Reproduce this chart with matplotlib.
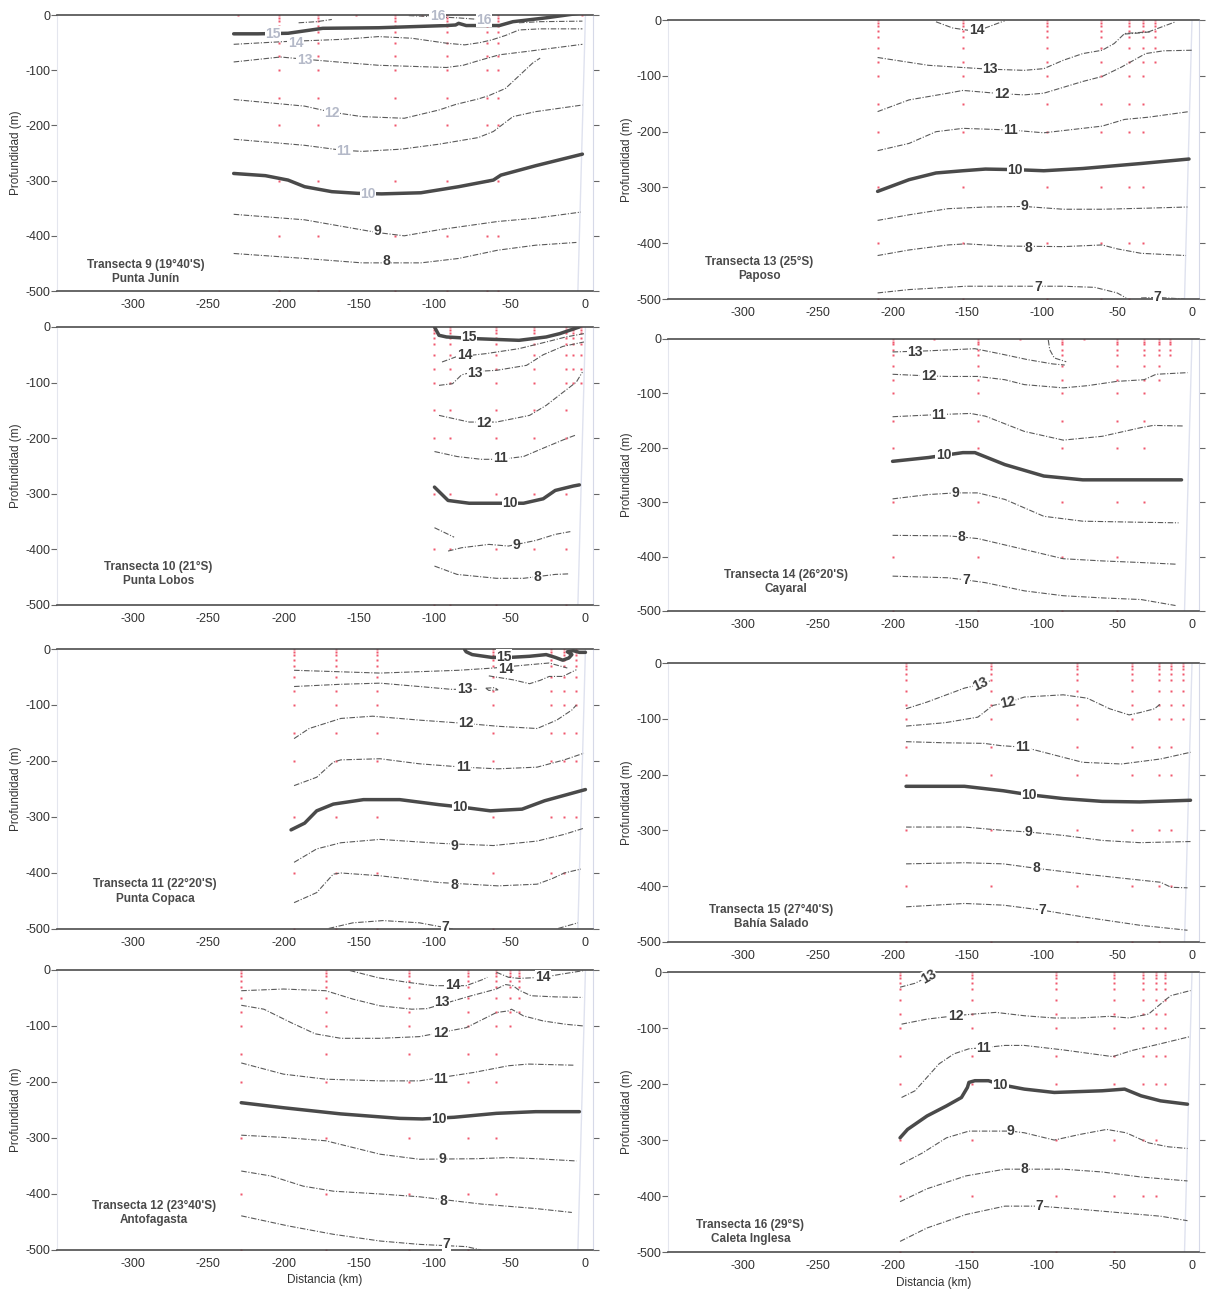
import matplotlib
matplotlib.use('Agg')
import matplotlib.pyplot as plt
from matplotlib import font_manager

# ---- data: isotherms (temp, [[dist km, depth m], ...]) ----

# Transecta 9 (19°40'S) Punta Junin
t9_lines = [
    (8, [[-233, -432], [-186, -441], [-148, -449], [-109, -449], [-84, -441], [-58, -426], [-33, -417], [-6, -412]]),
    (9, [[-233, -361], [-186, -371], [-161, -383], [-138, -394], [-120, -400], [-97, -389], [-58, -374], [-33, -368], [-3, -357]]),
    (10, [[-233, -287], [-212, -291], [-197, -299], [-186, -311], [-168, -320], [-151, -323], [-135, -324], [-109, -322],
          [-84, -311], [-61, -299], [-56, -290], [-33, -273], [-2, -252]]),
    (11, [[-233, -225], [-186, -236], [-161, -245], [-148, -247], [-122, -243], [-97, -234], [-71, -222], [-61, -211],
          [-48, -184], [-33, -175], [-2, -163]]),
    (12, [[-233, -153], [-186, -165], [-168, -176], [-148, -184], [-120, -187], [-97, -172], [-86, -162], [-71, -152],
          [-64, -146], [-53, -133], [-42, -105], [-35, -87], [-30, -78]]),
    (13, [[-233, -85], [-202, -76], [-186, -80], [-160, -86], [-137, -91], [-92, -95], [-81, -91], [-70, -82], [-57, -72],
          [-39, -66], [-2, -53]]),
    (14, [[-233, -53], [-199, -48], [-161, -44], [-137, -39], [-115, -42], [-92, -51], [-80, -54], [-70, -50], [-62, -45],
          [-53, -37], [-44, -27], [-30, -25], [-2, -25]]),
    (15, [[-233, -34], [-217, -34], [-197, -33], [-174, -24], [-137, -23], [-92, -19], [-86, -18], [-84, -15], [-79, -19],
          [-57, -19], [-48, -12], [-26, -5], [-2, 4]]),
    (16, [[-44, -14], [-30, -12], [-2, -11]]),
    (16, [[-117, -1], [-100, -3], [-85, -5], [-70, -8], [-62, -10]]),
    (14, [[-190, -14], [-178, -12], [-168, -8]]),
]
t9_labels = [(8, -132, -445), (9, -138, -392), (10, -144, -325), (11, -160, -246), (12, -168, -178),
             (13, -186, -82), (14, -192, -50), (15, -207, -34), (16, -98, -2), (16, -67, -9)]
t9_st_x = [-230, -203, -177, -152, -126, -108, -92, -65, -58, -2]
t9_st_bottom = [0, 500, 500, 0, 500, 0, 500, 500, 500, 0]

# Transecta 10 (21°S) Punta Lobos
t10_lines = [
    (15, [[-100, 0], [-97, -15], [-92, -18], [-73, -21], [-44, -24], [-26, -18], [-17, -12], [-4, 0]]),
    (14, [[-95, -63], [-86, -54], [-66, -48], [-44, -39], [-26, -27], [-13, -18], [-1, -12]]),
    (13, [[-97, -105], [-88, -102], [-82, -86], [-73, -80], [-59, -78], [-39, -69], [-28, -50], [-15, -35], [-1, -27]]),
    (12, [[-97, -159], [-77, -171], [-59, -171], [-37, -159], [-26, -141], [-17, -122], [-6, -99], [-2, -81]]),
    (11, [[-100, -224], [-85, -233], [-69, -238], [-56, -238], [-41, -233], [-28, -218], [-12, -200], [-6, -194]]),
    (10, [[-100, -288], [-91, -312], [-77, -317], [-56, -317], [-41, -317], [-28, -309], [-20, -294], [-8, -286], [-4, -284]]),
    (9, [[-100, -361], [-87, -378]]),
    (9, [[-91, -403], [-82, -397], [-64, -391], [-51, -394], [-33, -384], [-20, -373], [-10, -368]]),
    (8, [[-100, -430], [-85, -445], [-59, -452], [-41, -452], [-20, -445], [-11, -444]]),
]
t10_labels = [(15, -77, -18), (14, -80, -50), (13, -73, -82), (12, -67, -172), (11, -56, -236),
              (10, -50, -317), (9, -46, -393), (8, -32, -450)]
t10_st_x = [-100, -90, -59, -34, -13, -8, -3]
t10_st_bottom = [500, 500, 500, 400, 500, 100, 100]

# Transecta 11 (22°20'S) Punta Copaca
t11_lines = [
    (15, [[-80, -1], [-79, -5], [-75, -10], [-62, -15], [-50, -15], [-37, -13], [-26, -10], [-20, -15], [-15, -20],
          [-11, -16], [-9, -10], [-12, -5], [-8, -3], [-4, -6], [0, -6]]),
    (14, [[-193, -38], [-136, -43], [-84, -38], [-61, -34], [-37, -28], [-24, -25], [-16, -31], [-12, -34]]),
    (13, [[-193, -67], [-162, -63], [-136, -61], [-110, -67], [-89, -72], [-72, -72]]),
    (13, [[-64, -48], [-48, -55], [-37, -62], [-30, -56], [-24, -49], [-15, -49], [-6, -37]]),
    (13, [[-66, -70], [-60, -69], [-58, -73], [-64, -74], [-66, -70]]),
    (12, [[-193, -160], [-183, -142], [-162, -124], [-141, -120], [-110, -127], [-79, -133], [-58, -138], [-32, -142],
          [-19, -127], [-9, -109], [-6, -100]]),
    (11, [[-193, -244], [-178, -229], [-167, -202], [-162, -198], [-136, -196], [-110, -205], [-81, -211], [-58, -214],
          [-32, -211], [-14, -198], [-1, -186]]),
    (10, [[-195, -323], [-186, -311], [-178, -289], [-167, -277], [-147, -269], [-123, -269], [-97, -278], [-83, -282],
          [-63, -289], [-42, -286], [-27, -271], [0, -251]]),
    (9, [[-193, -381], [-178, -357], [-162, -346], [-136, -340], [-97, -347], [-61, -351], [-32, -343], [-14, -331], [-1, -320]]),
    (8, [[-193, -453], [-178, -435], [-167, -402], [-162, -400], [-136, -405], [-97, -417], [-58, -423], [-32, -420],
         [-22, -410], [-14, -400], [-3, -393]]),
    (7, [[-170, -499], [-154, -489], [-134, -485], [-110, -489], [-84, -502]]),
    (7, [[-18, -499], [-5, -489]]),
]
t11_labels = [(15, -54, -14), (14, -53, -36), (13, -80, -72), (12, -79, -133), (11, -81, -211),
              (10, -83, -282), (9, -87, -351), (8, -87, -422), (7, -93, -496)]
t11_st_x = [-193, -165, -138, -61, -23, -14, -6]
t11_st_bottom = [500, 500, 500, 500, 400, 400, 300]

# Transecta 12 (23°40'S) Antofagasta
t12_lines = [
    (14, [[-156, -1], [-137, -14], [-118, -22], [-100, -28], [-79, -28], [-68, -17], [-65, -13]]),
    (14, [[-59, -4], [-51, -13], [-44, -15], [-28, -13], [-15, -7], [-1, -1]]),
    (13, [[-228, -37], [-200, -34], [-172, -37], [-154, -52], [-136, -64], [-115, -70], [-105, -69], [-77, -47],
          [-59, -34], [-53, -26], [-48, -28], [-44, -36], [-36, -46], [-20, -48], [-2, -49]]),
    (12, [[-228, -63], [-213, -70], [-195, -94], [-179, -114], [-162, -122], [-136, -122], [-110, -119], [-79, -103],
          [-59, -76], [-51, -73], [-49, -70], [-41, -82], [-28, -91], [-13, -97], [-1, -100]]),
    (11, [[-228, -166], [-200, -186], [-172, -195], [-136, -198], [-110, -198], [-74, -183], [-51, -171], [-38, -168], [-8, -170]]),
    (10, [[-228, -237], [-200, -246], [-162, -257], [-123, -265], [-108, -266], [-87, -263], [-59, -256], [-33, -253], [-4, -253]]),
    (9, [[-228, -295], [-200, -299], [-172, -305], [-136, -329], [-110, -338], [-72, -337], [-51, -335], [-33, -337], [-6, -341]]),
    (8, [[-228, -359], [-208, -368], [-187, -386], [-167, -395], [-136, -400], [-110, -405], [-69, -418], [-33, -426], [-9, -433]]),
    (7, [[-228, -439], [-197, -457], [-167, -472], [-136, -484], [-110, -490], [-79, -494], [-69, -500]]),
]
t12_labels = [(14, -88, -27), (14, -28, -13), (13, -95, -58), (12, -96, -113), (11, -96, -194),
              (10, -97, -266), (9, -95, -338), (8, -94, -412), (7, -92, -490)]
t12_st_x = [-228, -172, -117, -78, -59, -50, -44]
t12_st_bottom = [500, 500, 500, 500, 400, 100, 75]

# Transecta 13 (25°S) Paposo
t13_lines = [
    (14, [[-171, -3], [-160, -14], [-150, -18], [-138, -14], [-130, -6], [-125, -1]]),
    (14, [[-45, -25], [-35, -23], [-28, -21]]),
    (13, [[-210, -67], [-176, -81], [-153, -85], [-135, -88], [-112, -90], [-99, -87], [-86, -72], [-73, -60], [-60, -54],
          [-52, -42], [-45, -24], [-29, -21], [-11, -3]]),
    (12, [[-210, -164], [-189, -143], [-163, -131], [-153, -126], [-127, -132], [-112, -134], [-99, -131], [-73, -110],
          [-60, -101], [-47, -84], [-31, -60], [-19, -55], [0, -54]]),
    (11, [[-210, -234], [-189, -221], [-171, -200], [-153, -194], [-121, -197], [-99, -202], [-73, -194], [-60, -190],
          [-45, -178], [-29, -174], [-2, -164]]),
    (10, [[-210, -307], [-189, -286], [-171, -274], [-153, -270], [-138, -267], [-118, -268], [-99, -270], [-73, -266],
          [-34, -257], [-2, -249]]),
    (9, [[-210, -359], [-189, -349], [-163, -338], [-138, -335], [-112, -334], [-86, -339], [-60, -339], [-29, -337], [-3, -335]]),
    (8, [[-210, -422], [-189, -412], [-163, -403], [-151, -401], [-125, -405], [-86, -406], [-60, -403], [-50, -410],
         [-34, -418], [-4, -422]]),
    (7, [[-210, -489], [-189, -483], [-151, -477], [-125, -477], [-86, -477], [-65, -479], [-50, -489], [-44, -498]]),
    (7, [[-34, -498], [-23, -497], [-5, -500]]),
]
t13_labels = [(14, -144, -18), (13, -135, -87), (12, -127, -132), (11, -121, -197), (10, -118, -268),
              (9, -112, -334), (8, -109, -409), (7, -103, -479), (7, -23, -496)]
t13_st_x = [-210, -153, -97, -61, -42, -33, -25]
t13_st_bottom = [500, 500, 500, 500, 500, 400, 75]

# Transecta 14 (26°20'S) Cayaral
t14_lines = [
    (13, [[-200, -24], [-177, -22], [-145, -18], [-127, -28], [-110, -38], [-93, -46], [-85, -48]]),
    (13, [[-96, -2], [-95, -20], [-92, -35], [-84, -42]]),
    (12, [[-200, -65], [-176, -68], [-163, -69], [-143, -69], [-125, -75], [-112, -84], [-86, -90], [-70, -86], [-50, -78],
          [-32, -75], [-24, -65], [-3, -62]]),
    (11, [[-200, -143], [-169, -139], [-148, -137], [-138, -142], [-112, -170], [-86, -186], [-60, -179], [-34, -163],
          [-26, -159], [-6, -160]]),
    (10, [[-200, -225], [-176, -218], [-166, -214], [-153, -209], [-145, -209], [-125, -231], [-99, -252], [-73, -259],
          [-47, -259], [-7, -259]]),
    (9, [[-200, -294], [-176, -286], [-158, -283], [-143, -283], [-125, -295], [-99, -326], [-73, -335], [-34, -337], [-9, -338]]),
    (8, [[-200, -361], [-163, -362], [-154, -364], [-143, -367], [-112, -387], [-86, -404], [-60, -408], [-34, -411], [-11, -414]]),
    (7, [[-200, -436], [-163, -439], [-151, -443], [-138, -448], [-112, -463], [-86, -472], [-60, -476], [-34, -479], [-11, -490]]),
]
t14_labels = [(13, -185, -24), (12, -176, -69), (11, -169, -139), (10, -166, -214), (9, -158, -283),
              (8, -154, -364), (7, -151, -443)]
t14_st_x = [-200, -172, -143, -115, -87, -72, -50, -32, -22, -15]
t14_st_bottom = [500, 0, 500, 0, 500, 0, 500, 300, 75, 30]

# Transecta 15 (27°40'S) Bahia Salado
t15_lines = [
    (13, [[-191, -82], [-177, -70], [-165, -58], [-152, -45], [-141, -38], [-135, -32]]),
    (12, [[-191, -113], [-165, -107], [-143, -97], [-133, -76], [-122, -70], [-112, -61], [-86, -57], [-70, -63],
          [-55, -82], [-42, -93], [-35, -89], [-25, -82], [-21, -73]]),
    (11, [[-191, -141], [-165, -143], [-139, -144], [-128, -148], [-112, -151], [-99, -160], [-73, -178], [-47, -181],
          [-21, -172], [-1, -160]]),
    (10, [[-191, -221], [-152, -221], [-126, -229], [-109, -236], [-86, -243], [-60, -248], [-35, -249], [-1, -246]]),
    (9, [[-191, -294], [-152, -294], [-126, -300], [-109, -303], [-86, -309], [-60, -318], [-35, -322], [-1, -320]]),
    (8, [[-191, -360], [-152, -358], [-126, -360], [-104, -368], [-73, -378], [-42, -387], [-21, -393], [-14, -402], [-3, -403]]),
    (7, [[-191, -437], [-152, -431], [-126, -434], [-100, -443], [-73, -455], [-35, -470], [-3, -479]]),
]
t15_labels = [(13, -141, -38), (12, -123, -70), (11, -113, -151), (10, -109, -236), (9, -109, -303),
              (8, -104, -368), (7, -100, -443)]
t15_st_x = [-191, -134, -77, -40, -22, -14, -6]
t15_st_bottom = [500, 500, 500, 500, 500, 400, 100]

# Transecta 16 (29°S) Caleta Inglesa
t16_lines = [
    (13, [[-195, -27], [-185, -20], [-176, -8]]),
    (12, [[-194, -93], [-177, -84], [-158, -78], [-146, -75], [-131, -72], [-112, -78], [-92, -82], [-75, -82], [-55, -79],
          [-42, -82], [-29, -75], [-17, -48], [-14, -42], [-1, -33]]),
    (11, [[-194, -224], [-185, -212], [-169, -164], [-159, -146], [-149, -137], [-139, -135], [-125, -131], [-112, -131],
          [-86, -139], [-53, -151], [-40, -140], [-21, -128], [-1, -115]]),
    (10, [[-195, -296], [-190, -281], [-177, -257], [-164, -239], [-154, -224], [-150, -206], [-149, -197], [-145, -194],
          [-136, -194], [-128, -201], [-112, -209], [-92, -215], [-60, -212], [-45, -209], [-34, -221], [-21, -230], [-3, -236]]),
    (9, [[-195, -344], [-180, -323], [-164, -296], [-149, -284], [-121, -284], [-112, -287], [-92, -300], [-75, -290],
         [-57, -281], [-44, -287], [-29, -305], [-16, -312], [-3, -315]]),
    (8, [[-195, -410], [-177, -387], [-151, -364], [-125, -352], [-112, -352], [-86, -352], [-60, -357], [-34, -366], [-3, -373]]),
    (7, [[-195, -481], [-177, -457], [-151, -433], [-125, -418], [-102, -418], [-73, -424], [-47, -430], [-21, -436], [-3, -444]]),
]
t16_labels = [(13, -176, -8), (12, -158, -78), (11, -139, -136), (10, -128, -201), (9, -121, -284),
              (8, -112, -352), (7, -102, -418)]
t16_st_x = [-195, -147, -91, -52, -33, -24, -18]
t16_st_bottom = [500, 500, 500, 500, 400, 400, 200]

sample_depths = [0, 5, 10, 20, 30, 50, 75, 100, 150, 200, 300, 400, 500]

titles = ["Transecta 9 (19°40'S)", "Transecta 10 (21°S)", "Transecta 11 (22°20'S)", "Transecta 12 (23°40'S)",
          "Transecta 13 (25°S)", "Transecta 14 (26°20'S)", "Transecta 15 (27°40'S)", "Transecta 16 (29°S)"]
places = ["Punta Junín", "Punta Lobos", "Punta Copaca", "Antofagasta",
          "Paposo", "Cayaral", "Bahía Salado", "Caleta Inglesa"]
title_x = [-291, -283, -285, -286, -289, -271, -281, -295]
title_y = [-466, -444, -433, -434, -446, -447, -455, -464]

yticks = [0, -100, -200, -300, -400, -500]
xticks = [-300, -250, -200, -150, -100, -50, 0]

# labels written along a sloping line (panel index, temp) -> angle
tilted = {(6, 13): 25, (6, 12): 12, (7, 13): 30}

# ---- layout ----
names = {f.name for f in font_manager.fontManager.ttflist}
font = 'Liberation Sans Narrow' if 'Liberation Sans Narrow' in names else 'Liberation Sans'
plt.rcParams['font.family'] = [font, 'DejaVu Sans']

# [left, bottom, width, height] in figure fractions
positions = [
    [0.0473, 0.7758, 0.4444, 0.2126],
    [0.0473, 0.5339, 0.4444, 0.2142],
    [0.0473, 0.2843, 0.4444, 0.2157],
    [0.0473, 0.0370, 0.4444, 0.2157],
    [0.5539, 0.7696, 0.4407, 0.2149],
    [0.5539, 0.5293, 0.4407, 0.2096],
    [0.5539, 0.2743, 0.4407, 0.2149],
    [0.5539, 0.0354, 0.4407, 0.2157],
]

panels = [
    (t9_lines, t9_labels, t9_st_x, t9_st_bottom, [10, 15], True),
    (t10_lines, t10_labels, t10_st_x, t10_st_bottom, [10, 15], False),
    (t11_lines, t11_labels, t11_st_x, t11_st_bottom, [10, 15], False),
    (t12_lines, t12_labels, t12_st_x, t12_st_bottom, [10], False),
    (t13_lines, t13_labels, t13_st_x, t13_st_bottom, [10], False),
    (t14_lines, t14_labels, t14_st_x, t14_st_bottom, [10], False),
    (t15_lines, t15_labels, t15_st_x, t15_st_bottom, [10], False),
    (t16_lines, t16_labels, t16_st_x, t16_st_bottom, [10], False),
]

fig = plt.figure(figsize=(12.06, 12.98), dpi=100)

for i, (lines, labels, st_x, st_bot, thick, faded) in enumerate(panels):
    ax = fig.add_axes(positions[i])

    # sampling stations
    for sx, bot in zip(st_x, st_bot):
        ds = [-d for d in sample_depths if d <= bot]
        ax.plot([sx] * len(ds), ds, ls='none', marker='s', ms=1.8, color='#f0576d', mec='none', zorder=2)

    # faint coast line
    ax.plot([-5, 0], [-500, 0], color='#dfe2ef', lw=1.0, zorder=1)

    for temp, pts in lines:
        xs = [p[0] for p in pts]
        ys = [p[1] for p in pts]
        if temp in thick:
            ax.plot(xs, ys, color='#4a4a4a', lw=2.5, solid_capstyle='round', zorder=3)
        else:
            ax.plot(xs, ys, color='#5a5a5a', lw=0.8, ls=(0, (5, 1.5, 1, 1.5)), zorder=3)

    for temp, lx, ly in labels:
        col = '#3c3c3c'
        if faded and temp >= 10:
            col = '#b4b9c8'
        ax.text(lx, ly, str(temp), ha='center', va='center', fontsize=10, fontweight='bold', color=col, zorder=4,
                rotation=tilted.get((i, temp), 0),
                bbox=dict(facecolor='white', edgecolor='none', pad=0.3))

    ax.text(title_x[i], title_y[i], titles[i] + '\n' + places[i], ha='center', va='center', fontsize=8.5,
            fontweight='bold', color='#4a4a4a', linespacing=1.25)

    ax.set_xlim(-350, 5)
    ax.set_ylim(-500, 0)
    ax.set_yticks(yticks)
    ax.set_yticklabels([str(v) for v in yticks], fontsize=9, color='#333333')
    ax.set_xticks(xticks)
    ax.set_xticklabels([str(v) for v in xticks], fontsize=9, color='#333333')
    ax.tick_params(axis='x', length=0, pad=6)
    ax.tick_params(axis='y', right=True, direction='out', length=4, width=0.8, color='#666666', pad=1)
    for side in ['top', 'bottom']:
        ax.spines[side].set_color('#4d4d4d')
        ax.spines[side].set_linewidth(1.2)
    ax.spines['left'].set_color('#e4e6ee')
    ax.spines['right'].set_color('#d6d9e8')
    ax.set_ylabel('Profundidad (m)', fontsize=8.5, color='#333333', labelpad=2)
    if i in (3, 7):
        ax.set_xlabel('Distancia (km)', fontsize=8.5, color='#333333', labelpad=3)

fig.savefig('out.png', dpi=100, facecolor='white')
